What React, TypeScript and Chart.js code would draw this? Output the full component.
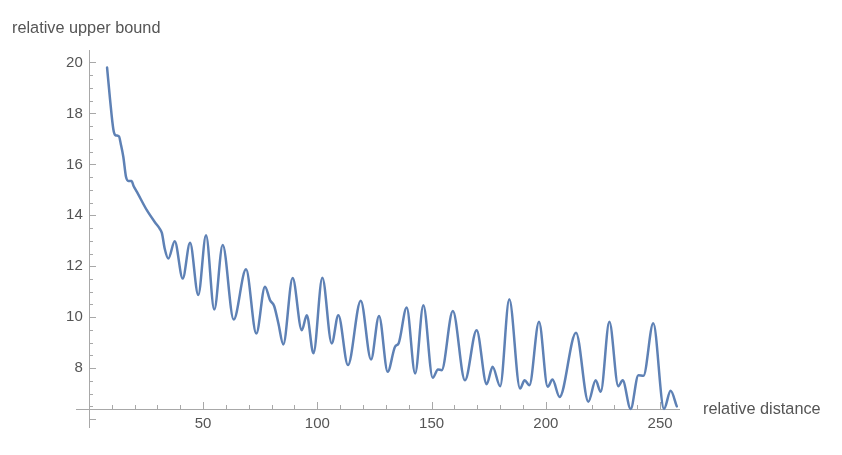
import React, { useEffect, useRef } from "react";
import { Chart, registerables } from "chart.js";

Chart.register(...registerables);

const distance = [
  8.0, 9.3, 10.7, 11.6, 13.2, 14.0, 15.1, 16.3, 17.3, 18.7, 19.6, 21.0, 25.4, 29.0, 31.0, 32.0, 33.2, 34.8,
  37.6, 41.1, 44.3, 47.9, 51.3, 54.9, 58.6, 63.4, 68.8, 73.3, 77.1, 79.3, 81.1, 82.95, 85.1,
  89.2, 93.2, 95.4, 98.3, 102.2, 106.3, 109.2, 113.4, 119.0, 123.5, 127.0, 130.8, 134.0, 135.6,
  139.1, 142.8, 146.4, 150.5, 152.8, 154.4, 159.3, 164.6, 169.7, 174.1, 176.7, 180.0, 184.0,
  188.7, 190.7, 192.8, 197.0, 200.8, 202.9, 206.0, 213.2, 218.6, 221.8, 224.0, 227.8, 231.7,
  233.6, 237.1, 240.5, 242.7, 247.0, 251.7, 254.6, 257.3,
];
const upperBound = [
  19.8, 18.55, 17.4, 17.15, 17.1, 16.8, 16.3, 15.5, 15.35, 15.35, 15.15, 14.93, 14.2, 13.72, 13.48, 13.3, 12.7, 12.3,
  12.98, 11.52, 12.92, 10.87, 13.22, 10.3, 12.83, 9.91, 11.88, 9.36, 11.2, 10.67, 10.44, 9.76, 8.93,
  11.54, 9.49, 10.08, 8.58, 11.55, 8.97, 10.08, 8.12, 10.65, 8.34, 10.05, 7.86, 8.84, 8.98,
  10.38, 7.79, 10.47, 7.62, 7.95, 7.92, 10.24, 7.52, 9.49, 7.37, 8.05, 7.29, 10.7,
  7.2, 7.52, 7.33, 9.82, 7.27, 7.55, 6.87, 9.39, 6.68, 7.52, 7.07, 9.82, 7.29,
  7.52, 6.4, 7.72, 7.7, 9.76, 6.4, 7.11, 6.5,
];

const xMajorTicks = [50, 100, 150, 200, 250];
const xTickLabels = ["50", "100", "150", "200", "250"];
const xMinorTicks = [10, 20, 30, 40, 60, 70, 80, 90, 110, 120, 130, 140, 160, 170, 180, 190, 210, 220, 230, 240];
const yMajorTicks = [6, 8, 10, 12, 14, 16, 18, 20];
const yTickLabels = ["", "8", "10", "12", "14", "16", "18", "20"];
const yMinorTicks = [6.5, 7, 7.5, 8.5, 9, 9.5, 10.5, 11, 11.5, 12.5, 13, 13.5, 14.5, 15, 15.5, 16.5, 17, 17.5, 18.5, 19, 19.5];

const xAxisTitle = "relative distance";
const yAxisTitle = "relative upper bound";
const xAxisAt = 6.39;
const yAxisAt = 0;

const TICK_FONT = '15px "Liberation Sans", Arial, sans-serif';
const TITLE_FONT = '16.3px "Liberation Sans", Arial, sans-serif';
const AXIS_COLOR = "#a8a8a8";
const LABEL_COLOR = "#555555";

const axesPlugin = {
  id: "mmaAxes",
  beforeDatasetsDraw(chart: any) {
    const { ctx, chartArea, scales } = chart;
    const xs = scales.x;
    const ys = scales.y;
    const axisY = ys.getPixelForValue(xAxisAt);
    const axisX = xs.getPixelForValue(yAxisAt);
    ctx.save();
    ctx.strokeStyle = AXIS_COLOR;
    ctx.lineWidth = 1;
    ctx.beginPath();
    ctx.moveTo(chartArea.left, Math.round(axisY) + 0.5);
    ctx.lineTo(chartArea.right, Math.round(axisY) + 0.5);
    ctx.stroke();
    ctx.beginPath();
    ctx.moveTo(Math.round(axisX) + 0.5, chartArea.top);
    ctx.lineTo(Math.round(axisX) + 0.5, chartArea.bottom);
    ctx.stroke();
    const tickX = (v: number, len: number) => {
      const p = Math.round(xs.getPixelForValue(v)) + 0.5;
      ctx.beginPath();
      ctx.moveTo(p, Math.round(axisY));
      ctx.lineTo(p, Math.round(axisY) - len);
      ctx.stroke();
    };
    xMajorTicks.forEach((v) => tickX(v, 7));
    xMinorTicks.forEach((v) => tickX(v, 4));
    const tickY = (v: number, len: number) => {
      const p = Math.round(ys.getPixelForValue(v)) + 0.5;
      ctx.beginPath();
      ctx.moveTo(Math.round(axisX), p);
      ctx.lineTo(Math.round(axisX) + len, p);
      ctx.stroke();
    };
    yMajorTicks.forEach((v) => tickY(v, 7));
    yMinorTicks.forEach((v) => tickY(v, 4));
    ctx.fillStyle = LABEL_COLOR;
    ctx.font = TICK_FONT;
    ctx.textAlign = "center";
    ctx.textBaseline = "middle";
    xMajorTicks.forEach((v, i) => {
      ctx.fillText(xTickLabels[i], xs.getPixelForValue(v), axisY + 15);
    });
    ctx.textAlign = "right";
    yMajorTicks.forEach((v, i) => {
      if (yTickLabels[i]) ctx.fillText(yTickLabels[i], axisX - 6, ys.getPixelForValue(v));
    });
    ctx.font = TITLE_FONT;
    ctx.textAlign = "left";
    ctx.fillText(xAxisTitle, chartArea.right + 23, axisY);
    ctx.fillText(yAxisTitle, 12, 29);
    ctx.restore();
  },
};

export default function App() {
  const ref = useRef<HTMLCanvasElement | null>(null);
  useEffect(() => {
    if (!ref.current) return;
    const chart = new Chart(ref.current, {
      type: "line",
      data: {
        datasets: [
          {
            data: distance.map((d, i) => ({ x: d, y: upperBound[i] })),
            borderColor: "#5e81b5",
            borderWidth: 2.5,
            pointRadius: 0,
            cubicInterpolationMode: "monotone",
            borderJoinStyle: "round",
            borderCapStyle: "round",
            fill: false,
          },
        ],
      },
      options: {
        responsive: false,
        animation: false,
        events: [],
        layout: { padding: { left: 76, right: 162, top: 50, bottom: 27 } },
        plugins: { legend: { display: false }, tooltip: { enabled: false } },
        scales: {
          x: { type: "linear", min: -5.6, max: 258.7, display: false },
          y: { type: "linear", min: 5.65, max: 20.49, display: false },
        },
      },
      plugins: [axesPlugin],
    });
    return () => chart.destroy();
  }, []);
  return (
    <div style={{ position: "fixed", left: 0, top: 0, width: 842, height: 455, background: "#fff" }}>
      <canvas ref={ref} width={842} height={455} style={{ display: "block" }} />
    </div>
  );
}
